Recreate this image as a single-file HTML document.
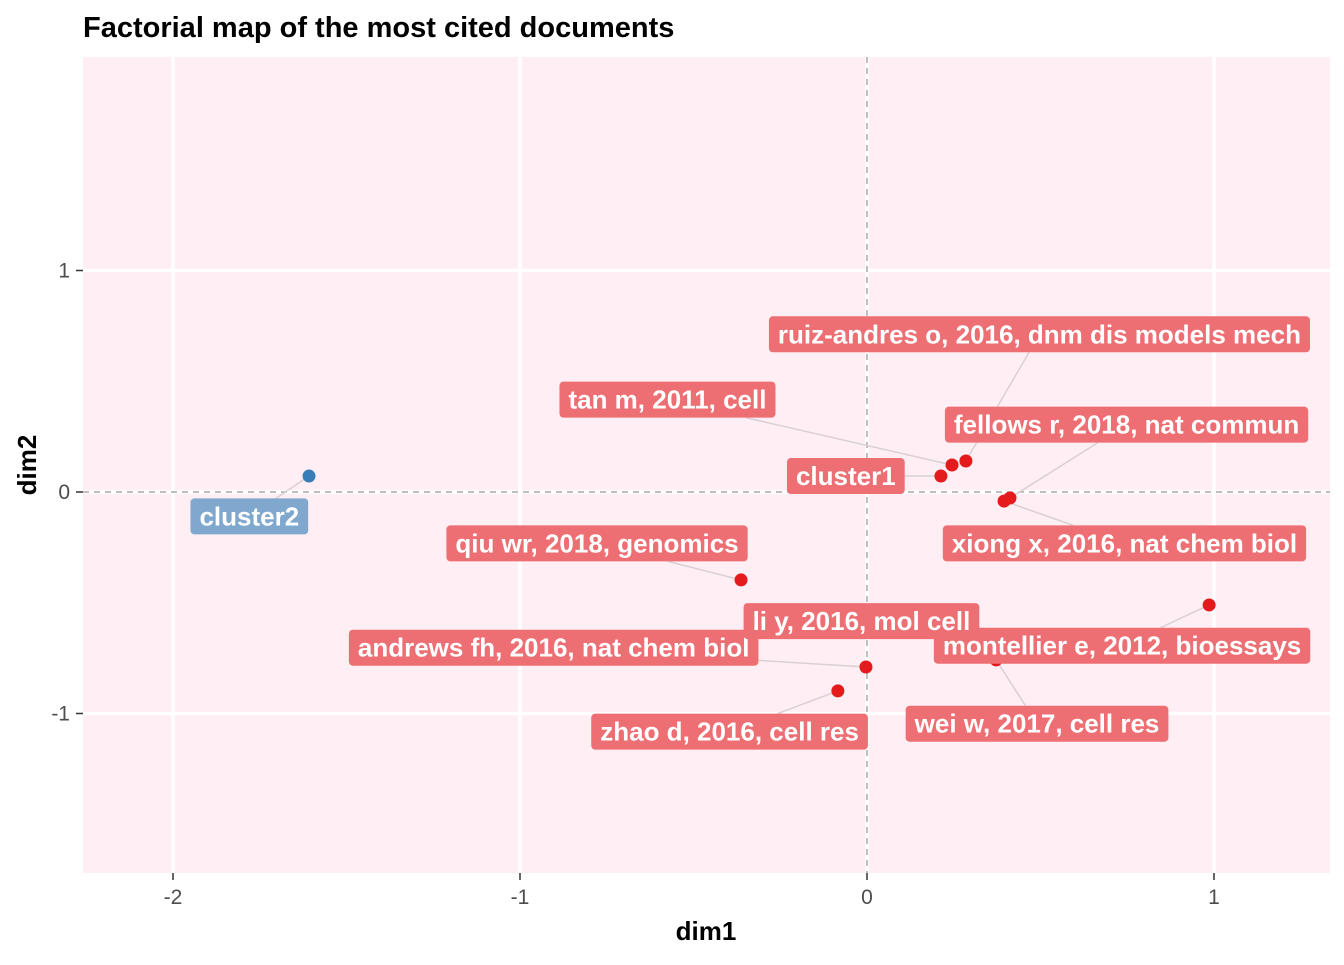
<!DOCTYPE html>
<html><head><meta charset="utf-8"><style>
body{margin:0;background:#fff;}
svg text{font-family:"Liberation Sans",Arial,sans-serif;}
</style></head><body>
<svg id="chart" width="1344" height="960" xmlns="http://www.w3.org/2000/svg">
<text x="83" y="37" font-size="29" font-weight="bold" fill="#000">Factorial map of the most cited documents</text>
<rect x="83" y="57" width="1247" height="816" fill="#ffeef3"/>
<g id="grid"></g><g id="axes"></g><g id="segs"></g><g id="pts"></g><g id="labels"></g>
<text x="706" y="940" font-size="26" font-weight="bold" text-anchor="middle">dim1</text>
<text transform="translate(36,465) rotate(-90)" font-size="26" font-weight="bold" text-anchor="middle">dim2</text>
</svg>
<script>
const docNames = ["cluster2","cluster1","tan m, 2011, cell","ruiz-andres o, 2016, dnm dis models mech","fellows r, 2018, nat commun","xiong x, 2016, nat chem biol","qiu wr, 2018, genomics","andrews fh, 2016, nat chem biol","zhao d, 2016, cell res","wei w, 2017, cell res","montellier e, 2012, bioessays","li y, 2016, mol cell"];
const dim1 = [-1.608,0.213,0.245,0.285,0.412,0.395,-0.363,-0.003,-0.084,0.372,0.986,0.349];
const dim2 = [0.072,0.072,0.122,0.140,-0.027,-0.041,-0.397,-0.790,-0.898,-0.758,-0.510,-0.704];
const clusterId = [2,1,1,1,1,1,1,1,1,1,1,1];
const labelX = [-1.780,-0.061,-0.575,0.497,0.748,0.742,-0.778,-0.903,-0.396,0.490,0.735,-0.016];
const labelY = [-0.110,0.072,0.417,0.712,0.304,-0.232,-0.232,-0.703,-1.082,-1.046,-0.694,-0.583];
const xTicks = [-2,-1,0,1];
const yTicks = [-1,0,1];
const xs = v => 867 + v*347;
const ys = v => 492 - v*221.5;
const NS="http://www.w3.org/2000/svg";
function mk(tag, attrs, parent){const e=document.createElementNS(NS,tag);for(const k in attrs)e.setAttribute(k,attrs[k]);parent.appendChild(e);return e;}
const grid=document.getElementById('grid'), axes=document.getElementById('axes');
xTicks.forEach(t=>{
  const g=mk('line',{x1:xs(t),x2:xs(t),y1:57,y2:873,stroke:'#fff','stroke-width':3.5},grid);
  
  
  mk('line',{x1:xs(t),x2:xs(t),y1:873,y2:880,stroke:'#333','stroke-width':1.5},axes);
  const tx=mk('text',{x:xs(t),y:904,'font-size':21,fill:'#4d4d4d','text-anchor':'middle'},axes);
  tx.textContent=t;
  
  
});
yTicks.forEach(t=>{
  const g=mk('line',{x1:83,x2:1330,y1:ys(t),y2:ys(t),stroke:'#fff','stroke-width':3.5},grid);
  
  
  mk('line',{x1:76,x2:83,y1:ys(t),y2:ys(t),stroke:'#333','stroke-width':1.5},axes);
  const tx=mk('text',{x:70,y:ys(t)+7,'font-size':21,fill:'#4d4d4d','text-anchor':'end'},axes);
  tx.textContent=t;
  
  
});
const h0=mk('line',{x1:83,x2:1330,y1:ys(0),y2:ys(0),stroke:'#aaa','stroke-width':1.5,'stroke-dasharray':'6,5'},grid);


const v0=mk('line',{x1:xs(0),x2:xs(0),y1:57,y2:873,stroke:'#aaa','stroke-width':1.5,'stroke-dasharray':'6,5'},grid);


const segs=document.getElementById('segs'), pts=document.getElementById('pts'), labs=document.getElementById('labels');
docNames.forEach((n,i)=>{
  const col = clusterId[i]===2 ? '#377eb8' : '#e41a1c';
  const fill = clusterId[i]===2 ? '#80a8cf' : '#ee6f73';
  const px=xs(dim1[i]), py=ys(dim2[i]);
  const p=mk('circle',{cx:px,cy:py,r:6.5,fill:col},pts);
  
  
  const cx=xs(labelX[i]), cy=ys(labelY[i]);
  const g=mk('g',{},labs);
  
  
  const r=mk('rect',{rx:4,fill:fill},g);
  const t=mk('text',{x:cx,y:cy+9,'font-size':26,'font-weight':'bold',fill:'#fff','text-anchor':'middle'},g);
  t.textContent=n;
  const w=t.getComputedTextLength()+18, h=36;
  const x0=cx-w/2,y0=cy-h/2;
  r.setAttribute('x',x0);r.setAttribute('y',y0);r.setAttribute('width',w);r.setAttribute('height',h);
  const dx=cx-px, dy=cy-py;
  let tt=1;
  if(Math.abs(dx)>0) tt=Math.min(tt, Math.abs((w/2)/dx));
  if(Math.abs(dy)>0) tt=Math.min(tt, Math.abs((h/2)/dy));
  const ex=cx-dx*tt, ey=cy-dy*tt;
  const inside = Math.abs(px-cx)<=w/2 && Math.abs(py-cy)<=h/2;
  if(!inside && Math.hypot(ex-px,ey-py)>8){
    const s=mk('line',{x1:px,y1:py,x2:ex,y2:ey,stroke:'#d9d0d3','stroke-width':1.5},segs);
    
    
  }
});
</script>
</body></html>
